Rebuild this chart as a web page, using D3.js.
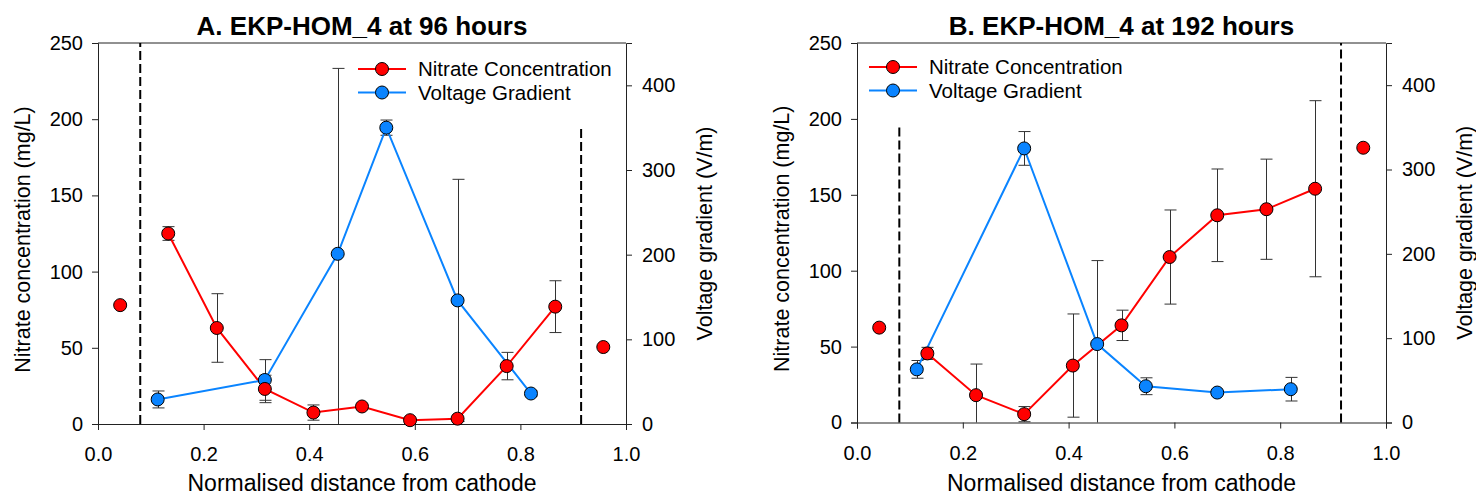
<!DOCTYPE html>
<html>
<head>
<meta charset="utf-8">
<script src="https://cdn.jsdelivr.net/npm/d3@7"></script>
<style>
  body { margin: 0; background: #fff; }
  svg { display: block; font-family: "Liberation Sans", Arial, sans-serif; }
</style>
</head>
<body>
<svg id="chart" width="1476" height="499"></svg>
<script>
// positions along the cell (normalised distance from cathode)
const nitrateX = [0.042, 0.133, 0.225, 0.316, 0.408, 0.5, 0.591, 0.681, 0.774, 0.866, 0.957];
const voltageX = [0.113, 0.316, 0.454, 0.546, 0.681, 0.82];

// panel A - 96 hours
const nitrateA = [78, 125, 63, 23, 7.5, 11.5, 2.5, 3.5, 38, 77, 50.5];
const nitrateAErr = [null, 4.5, 22.5, 9, 5, null, null, null, 9, 17, null];
const voltageA = [29, 52, 201, 350, 146, 36];
const voltageAErr = [10, 24, 219, 9, 143, 3];
const dividerTopA = [250, 195];

// panel B - 192 hours
const nitrateB = [62.5, 45.5, 18, 5.5, 37.5, 64, 109, 136.5, 140.5, 154, 181];
const nitrateBErr = [null, 4, 20.5, 5, 34, 10, 31, 30.5, 33, 58, null];
const voltageB = [63, 325, 93, 43, 35.5, 39.5];
const voltageBErr = [10.5, 20, 99, 10, null, 14];
const dividerTopB = [197, 250];

const dividerX = [0.08, 0.915];
const xTicks = [0, 0.2, 0.4, 0.6, 0.8, 1.0];
const leftTicks = [0, 50, 100, 150, 200, 250];
const rightTicks = [0, 100, 200, 300, 400];
const legendLabels = ["Nitrate Concentration", "Voltage Gradient"];

const RED = "#ff0000", BLUE = "#0a84ff";

const svg = d3.select("#chart");

function drawPanel(opt) {
  const g = svg.append("g");
  const x = d3.scaleLinear().domain([0, 1]).range([opt.left, opt.right]);
  const yL = d3.scaleLinear().domain([0, 250]).range([opt.bottom, opt.top]);
  const yR = d3.scaleLinear().domain([0, 450]).range([opt.bottom, opt.top]);

  // frame top line
  g.append("line")
    .attr("x1", opt.left).attr("x2", opt.right)
    .attr("y1", opt.top).attr("y2", opt.top)
    .attr("stroke", "#222").attr("stroke-width", 1);

  const styleAxis = sel => {
    sel.select(".domain").attr("stroke", "#222");
    sel.selectAll(".tick line").attr("stroke", "#222");
    sel.selectAll(".tick text").attr("fill", "#000").style("font-size", "20px");
  };

  g.append("g")
    .attr("transform", `translate(0,${opt.bottom})`)
    .call(d3.axisBottom(x).tickValues(xTicks).tickFormat(d3.format(".1f")).tickSizeOuter(0).tickSize(6).tickPadding(17))
    .call(styleAxis);
  g.append("g")
    .attr("transform", `translate(${opt.left},0)`)
    .call(d3.axisLeft(yL).tickValues(leftTicks).tickSizeOuter(0).tickSize(6).tickPadding(9))
    .call(styleAxis);
  g.append("g")
    .attr("transform", `translate(${opt.right},0)`)
    .call(d3.axisRight(yR).tickValues(rightTicks).tickSizeOuter(0).tickSize(6).tickPadding(10))
    .call(styleAxis);

  // dashed dividers
  dividerX.forEach((d, i) => {
    g.append("line")
      .attr("x1", x(d)).attr("x2", x(d))
      .attr("y1", yL(0)).attr("y2", yL(opt.dividerTop[i]))
      .attr("stroke", "#000").attr("stroke-width", 2)
      .attr("stroke-dasharray", "9,4");
  });

  // error bars
  const errBars = (xs, vals, errs, y, domainMax) => {
    xs.forEach((xv, i) => {
      const e = errs[i];
      if (e == null) return;
      const lo = Math.max(0, vals[i] - e), hi = Math.min(domainMax, vals[i] + e);
      const cx = Math.round(x(xv)) + 0.5;
      g.append("line")
        .attr("x1", cx).attr("x2", cx)
        .attr("y1", y(lo)).attr("y2", y(hi))
        .attr("stroke", "#333").attr("stroke-width", 1);
      [lo, hi].forEach(v => {
        if (v === 0 && vals[i] - e < 0) return;
        g.append("line")
          .attr("x1", cx - 6).attr("x2", cx + 6)
          .attr("y1", y(v)).attr("y2", y(v))
          .attr("stroke", "#333").attr("stroke-width", 1);
      });
    });
  };

  errBars(voltageX, opt.voltage, opt.voltageErr, yR, 450);
  errBars(nitrateX, opt.nitrate, opt.nitrateErr, yL, 250);

  const line = y => d3.line().x(d => x(d[0])).y(d => y(d[1]));

  // nitrate line links only the inner samples (end points are electrode wells)
  const nPts = nitrateX.map((d, i) => [d, opt.nitrate[i]]);
  g.append("path")
    .datum(nPts.slice(1, -1))
    .attr("fill", "none").attr("stroke", RED).attr("stroke-width", 2)
    .attr("d", line(yL));

  const vPts = voltageX.map((d, i) => [d, opt.voltage[i]]);
  g.append("path")
    .datum(vPts)
    .attr("fill", "none").attr("stroke", BLUE).attr("stroke-width", 2)
    .attr("d", line(yR));

  g.selectAll(".vdot").data(vPts).join("circle")
    .attr("cx", d => x(d[0])).attr("cy", d => yR(d[1])).attr("r", 6.5)
    .attr("fill", BLUE).attr("stroke", "#000").attr("stroke-width", 1);
  g.selectAll(".ndot").data(nPts).join("circle")
    .attr("cx", d => x(d[0])).attr("cy", d => yL(d[1])).attr("r", 6.5)
    .attr("fill", RED).attr("stroke", "#000").attr("stroke-width", 1);

  // legend
  [RED, BLUE].forEach((c, i) => {
    const ly = opt.legendY + i * 23.5;
    g.append("line")
      .attr("x1", opt.legendX).attr("x2", opt.legendX + 48)
      .attr("y1", ly).attr("y2", ly)
      .attr("stroke", c).attr("stroke-width", 2);
    g.append("circle")
      .attr("cx", opt.legendX + 24).attr("cy", ly).attr("r", 6.5)
      .attr("fill", c).attr("stroke", "#000").attr("stroke-width", 1);
    g.append("text")
      .attr("x", opt.legendX + 60).attr("y", ly + 7)
      .style("font-size", "20.5px")
      .text(legendLabels[i]);
  });

  // titles
  g.append("text")
    .attr("x", (opt.left + opt.right) / 2).attr("y", 35)
    .attr("text-anchor", "middle")
    .style("font-size", "26px").style("font-weight", "bold")
    .text(opt.title);

  g.append("text")
    .attr("x", (opt.left + opt.right) / 2).attr("y", 491)
    .attr("text-anchor", "middle")
    .style("font-size", "23px")
    .text("Normalised distance from cathode");

  g.append("text")
    .attr("transform", `translate(${opt.left - 68},${(opt.top + opt.bottom) / 2 + 6}) rotate(-90)`)
    .attr("text-anchor", "middle")
    .style("font-size", "21.5px")
    .text("Nitrate concentration (mg/L)");

  g.append("text")
    .attr("transform", `translate(${opt.right + 86},${(opt.top + opt.bottom) / 2}) rotate(-90)`)
    .attr("text-anchor", "middle")
    .style("font-size", "21.5px")
    .text("Voltage gradient (V/m)");
}

drawPanel({
  left: 98, right: 626, top: 43, bottom: 424,
  title: "A. EKP-HOM_4 at 96 hours",
  nitrate: nitrateA, nitrateErr: nitrateAErr,
  voltage: voltageA, voltageErr: voltageAErr,
  dividerTop: dividerTopA,
  legendX: 358, legendY: 69
});

drawPanel({
  left: 857, right: 1386, top: 43, bottom: 422.5,
  title: "B. EKP-HOM_4 at 192 hours",
  nitrate: nitrateB, nitrateErr: nitrateBErr,
  voltage: voltageB, voltageErr: voltageBErr,
  dividerTop: dividerTopB,
  legendX: 869, legendY: 67
});
</script>
</body>
</html>
